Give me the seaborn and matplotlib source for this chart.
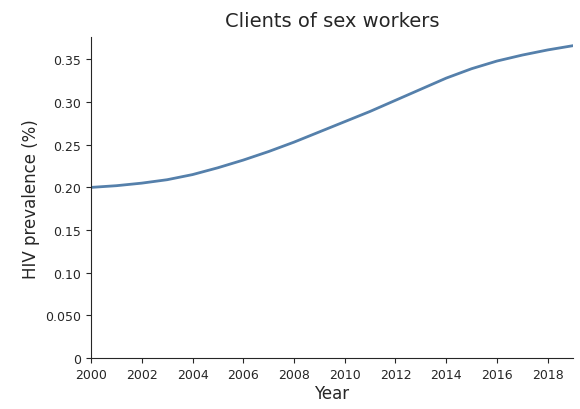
import matplotlib
matplotlib.use("Agg")
import matplotlib.pyplot as plt
import seaborn as sns
import pandas as pd

# HIV prevalence among clients of sex workers
years = list(range(2000, 2020))
prevalence = [0.200, 0.202, 0.205, 0.209, 0.215, 0.223, 0.232, 0.242, 0.253, 0.265,
              0.277, 0.289, 0.302, 0.315, 0.328, 0.339, 0.348, 0.355, 0.361, 0.366]
y_ticks = [0, 0.05, 0.10, 0.15, 0.20, 0.25, 0.30, 0.35]
y_tick_labels = ["0", "0.050", "0.10", "0.15", "0.20", "0.25", "0.30", "0.35"]
x_ticks = list(range(2000, 2019, 2))

data = pd.DataFrame({"Year": years, "prevalence": prevalence})

sns.set_style("ticks")
plt.rcParams["font.family"] = ["DejaVu Sans"]

fig = plt.figure(figsize=(5.8, 4.1), dpi=100)
ax = fig.add_axes([0.157, 0.124, 0.831, 0.783])
sns.lineplot(data=data, x="Year", y="prevalence", ax=ax, color="#5580ab", linewidth=2)

ax.set_xlim(2000, 2019)
ax.set_ylim(0, 0.376)
ax.set_xticks(x_ticks)
ax.set_xticklabels([str(t) for t in x_ticks], fontsize=9)
ax.set_yticks(y_ticks)
ax.set_yticklabels(y_tick_labels, fontsize=9)
ax.set_xlabel("Year", fontsize=12, labelpad=2)
ax.set_ylabel("HIV prevalence (%)", fontsize=12)
ax.set_title("Clients of sex workers", fontsize=14, pad=8)
sns.despine(ax=ax)

fig.savefig("out.png", dpi=100)
